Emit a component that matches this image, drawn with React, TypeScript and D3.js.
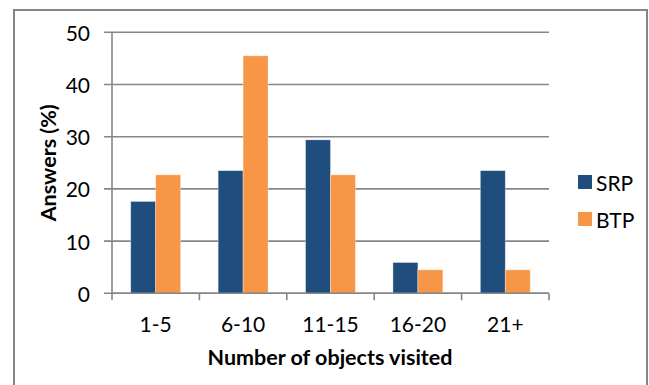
import React from "react";
import * as d3 from "d3";

const categories = ["1-5", "6-10", "11-15", "16-20", "21+"];
const seriesNames = ["SRP", "BTP"];
const srpValues = [17.6, 23.5, 29.4, 5.9, 23.5];
const btpValues = [22.7, 45.5, 22.7, 4.5, 4.5];
const yTicks = [0, 10, 20, 30, 40, 50];

const W = 649;
const H = 385;
const colors = ["#1F4E7E", "#F79646"];
const FONT = "Lato, 'Open Sans', sans-serif";

export default function App() {
  const left = 112;
  const right = 549;
  const top = 32.3;
  const bottom = 293.3;

  const x = d3.scaleBand<string>().domain(categories).range([left, right]).paddingInner(0).paddingOuter(0);
  const bw = x.bandwidth() / 3.5; // gap width 150%
  const y = d3.scaleLinear().domain([0, 50]).range([bottom, top]);

  const series = [srpValues, btpValues];

  return (
    <svg
      width={W}
      height={H}
      viewBox={`0 0 ${W} ${H}`}
      style={{ position: "absolute", left: 0, top: 0, background: "#fff" }}
      fontFamily={FONT}
    >
      {/* chart frame */}
      <rect x={14} y={10} width={633} height={400} fill="#fff" stroke="#868686" strokeWidth={2} />

      {/* gridlines with left tick stubs */}
      {yTicks.map((t) => (
        <g key={t}>
          <line x1={104} x2={right} y1={y(t)} y2={y(t)} stroke="#868686" strokeWidth={1.6} />
          <text
            x={90}
            y={y(t)}
            textAnchor="end"
            dominantBaseline="central"
            fontSize={21}
            fill="#000"
          >
            {t}
          </text>
        </g>
      ))}

      {/* bars */}
      {categories.map((c, i) => {
        const x0 = (x(c) as number) + bw * 0.75;
        return (
          <g key={c}>
            {series.map((vals, s) => (
              <rect
                key={s}
                x={x0 + s * bw}
                y={y(vals[i])}
                width={bw}
                height={y(0) - y(vals[i])}
                fill={colors[s]}
                stroke="#ffffff"
                strokeOpacity={0.45}
                strokeWidth={0.8}
              />
            ))}
          </g>
        );
      })}

      {/* axes */}
      <line x1={left} x2={left} y1={top} y2={bottom} stroke="#868686" strokeWidth={1.6} />
      <line x1={left} x2={right} y1={bottom} y2={bottom} stroke="#868686" strokeWidth={1.6} />
      {[...categories.map((c) => x(c) as number), right].map((tx, i) => (
        <line key={i} x1={tx} x2={tx} y1={bottom} y2={bottom + 7} stroke="#868686" strokeWidth={1.6} />
      ))}

      {/* category labels */}
      {categories.map((c) => (
        <text
          key={c}
          x={(x(c) as number) + x.bandwidth() / 2}
          y={332}
          textAnchor="middle"
          fontSize={21}
          fill="#000"
        >
          {c}
        </text>
      ))}

      {/* axis titles */}
      <text x={330} y={365} textAnchor="middle" fontSize={21.5} fontWeight="bold" fill="#000">
        Number of objects visited
      </text>
      <text
        transform={`translate(56,${(top + bottom) / 2}) rotate(-90)`}
        textAnchor="middle"
        fontSize={21.5}
        fontWeight="bold"
        fill="#000"
      >
        Answers (%)
      </text>

      {/* legend */}
      {seriesNames.map((n, i) => (
        <g key={n} transform={`translate(578,${175 + i * 37})`}>
          <rect x={0} y={0} width={14} height={14} fill={colors[i]} />
          <text x={18} y={7} dominantBaseline="central" fontSize={21} fill="#000">
            {n}
          </text>
        </g>
      ))}
    </svg>
  );
}
